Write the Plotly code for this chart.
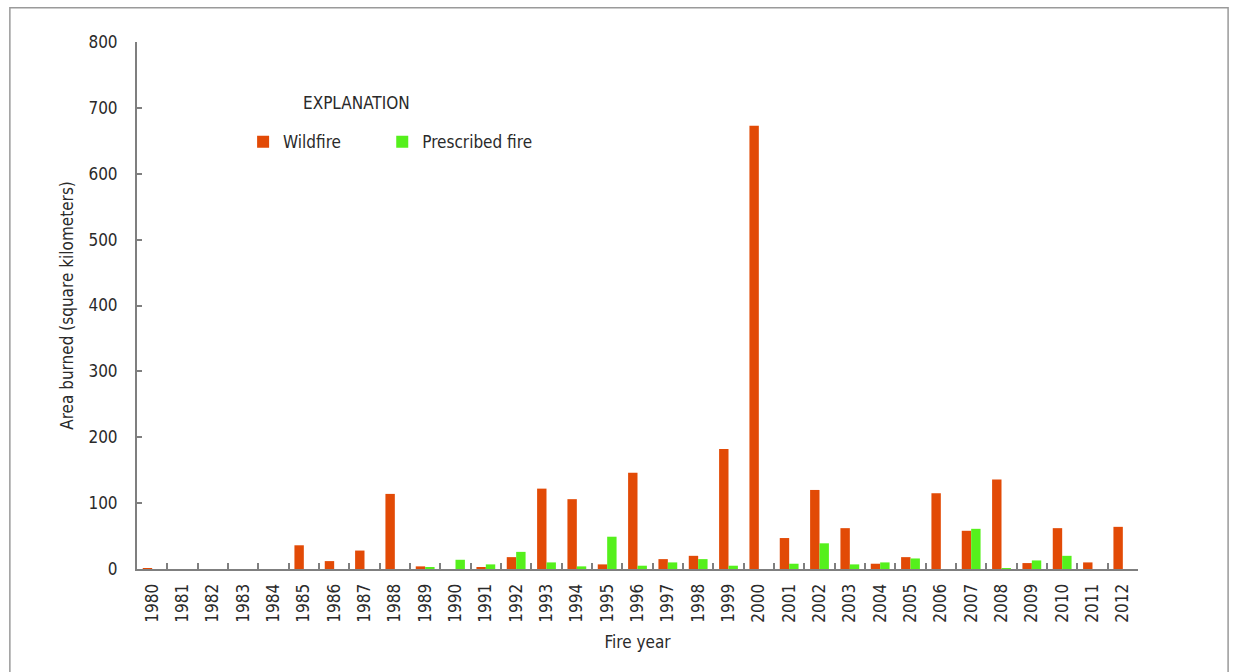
import plotly.graph_objects as go

# Area burned per fire year, square kilometers
years = [str(y) for y in range(1980, 2013)]
wildfire = [1, 0, 0, 0, 0, 36, 12, 28, 114, 4,
            0, 3, 18, 122, 106, 7, 146, 15, 20, 182,
            673, 47, 120, 62, 8, 18, 115, 58, 136, 9,
            62, 10, 64]
prescribed = [0, 0, 0, 0, 0, 0, 0, 0, 0, 2,
              14, 7, 26, 10, 4, 49, 5, 10, 15, 5,
              0, 8, 39, 7, 10, 16, 0, 61, 1, 13,
              20, 0, 0]
y_ticks = [0, 100, 200, 300, 400, 500, 600, 700, 800]

FONT = "Liberation Sans Narrow, DejaVu Sans Condensed, Arial Narrow, sans-serif"
TEXT = "#2a2a2a"
AXIS = "#7f7f7f"

fig = go.Figure()
fig.add_trace(go.Bar(x=years, y=wildfire, name="Wildfire", legend="legend",
                     marker=dict(color="#e24a06", line=dict(width=0))))
fig.add_trace(go.Bar(x=years, y=prescribed, name="Prescribed fire", legend="legend2",
                     marker=dict(color="#55f01c", line=dict(width=0))))

legend_style = dict(orientation="h", yanchor="middle", xanchor="left",
                    font=dict(family=FONT, size=17, color=TEXT),
                    bgcolor="rgba(0,0,0,0)", itemwidth=30)

fig.update_layout(
    width=1235, height=672,
    margin=dict(l=137, r=97, t=42, b=103),
    paper_bgcolor="white", plot_bgcolor="white",
    barmode="group", bargap=0.38, bargroupgap=0,
    font=dict(family=FONT, size=17, color=TEXT),
    showlegend=True,
    legend=dict(x=0.106, y=0.810, **legend_style),
    legend2=dict(x=0.245, y=0.810, **legend_style),
    xaxis=dict(
        type="category", tickangle=-90, tickson="boundaries",
        ticks="inside", ticklen=6, tickwidth=2, tickcolor=AXIS,
        showline=True, linecolor=AXIS, linewidth=2,
        showgrid=False, zeroline=False,
        tickfont=dict(family=FONT, size=17, color=TEXT),
        ticklabelstandoff=6,
        title=dict(text="Fire year", font=dict(family=FONT, size=17, color=TEXT), standoff=14),
    ),
    yaxis=dict(
        range=[0, 800], tickvals=y_ticks,
        ticks="inside", ticklen=5, tickwidth=2, tickcolor=AXIS,
        showline=True, linecolor=AXIS, linewidth=2,
        showgrid=False, zeroline=False,
        tickfont=dict(family=FONT, size=17, color=TEXT),
        ticklabelstandoff=14,
        title=dict(text="Area burned (square kilometers)",
                   font=dict(family=FONT, size=17, color=TEXT), standoff=10),
    ),
)

fig.add_annotation(text="EXPLANATION", xref="paper", yref="paper",
                   x=0.164, y=0.885, xanchor="left", yanchor="middle",
                   showarrow=False, font=dict(family=FONT, size=17, color=TEXT))

# thin frame around the figure
fig.add_shape(type="rect", xref="paper", yref="paper",
              x0=-0.127, x1=1.09, y0=-0.25, y1=1.065,
              line=dict(color="#9a9a9a", width=1.5), layer="below")

fig.write_html("out.html")
